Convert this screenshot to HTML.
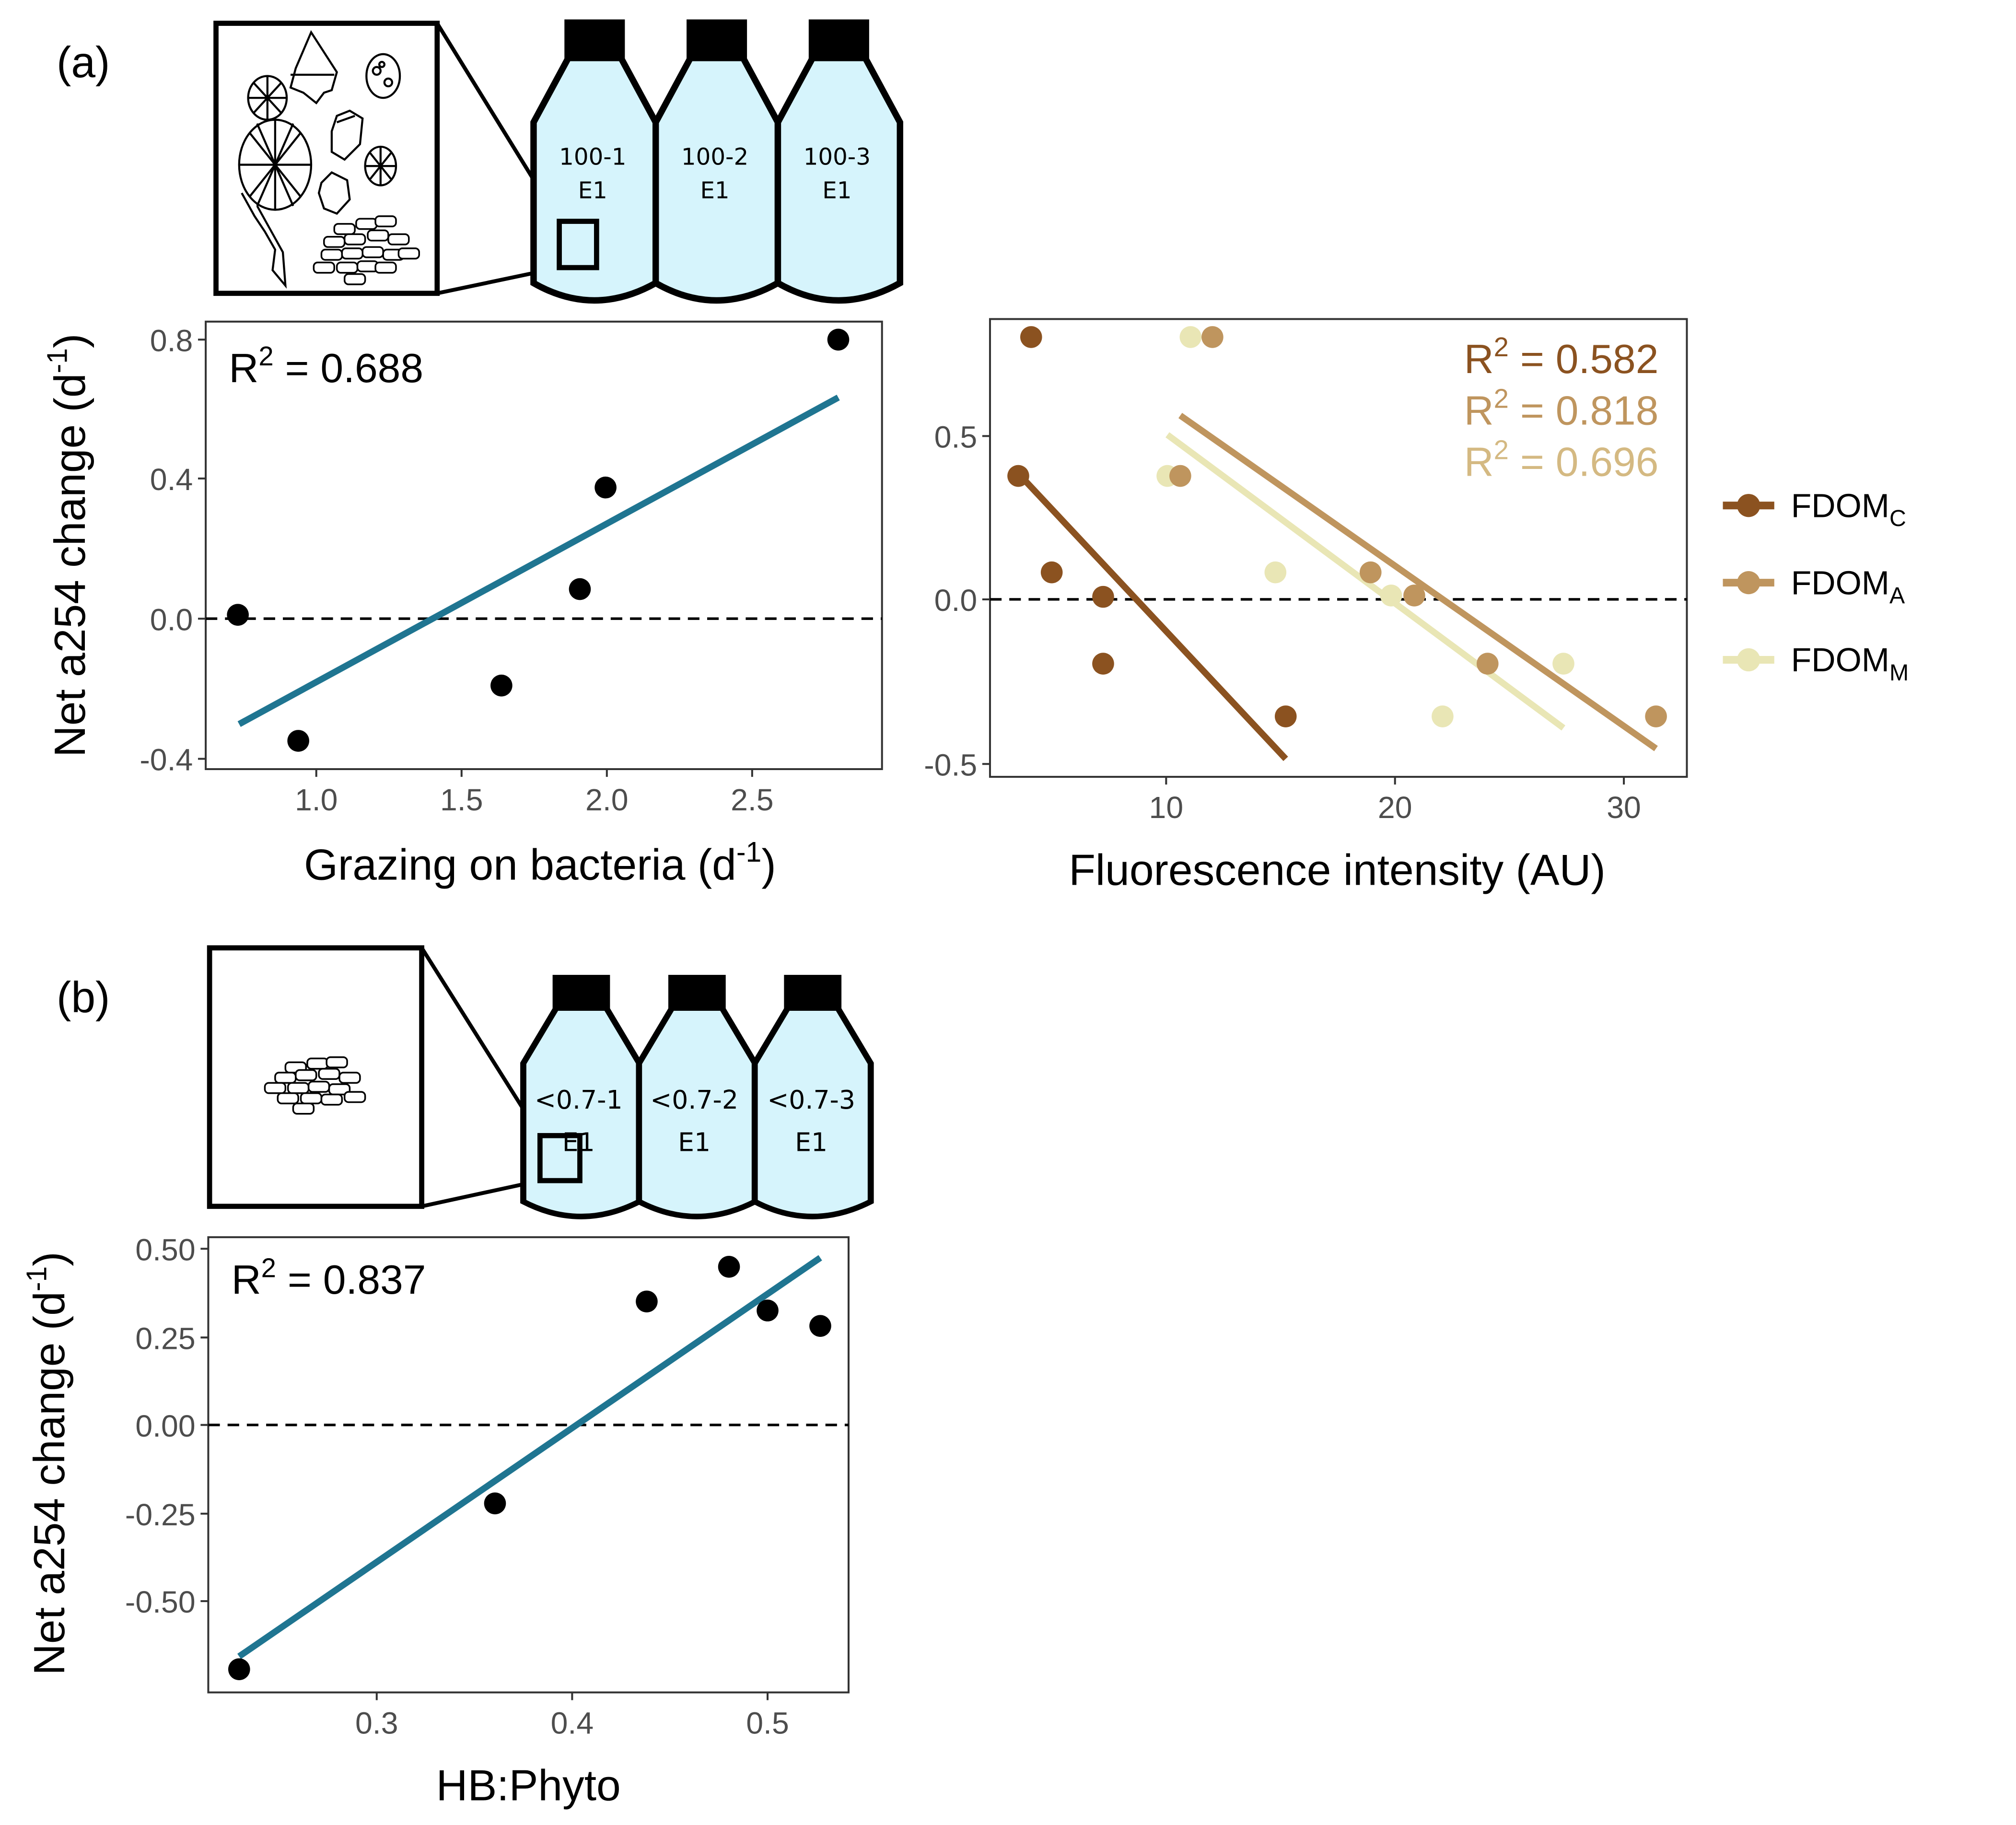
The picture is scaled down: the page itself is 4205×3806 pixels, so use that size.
<!DOCTYPE html>
<html><head><meta charset="utf-8"><style>html,body{margin:0;padding:0;background:#fff}svg{display:block}</style></head><body>
<svg xmlns="http://www.w3.org/2000/svg" width="4205" height="3806" viewBox="0 0 1568 1419" font-family="Liberation Sans, Arial, sans-serif">
<defs>
<g id="bottle">
<path d="M27,30 L0,80 L0,205 Q47,232 95,205 L95,80 L68,30 Z" fill="#d6f4fc" stroke="#000" stroke-width="5" stroke-linejoin="miter"/>
<rect x="24" y="0" width="47" height="31" fill="#000"/>
</g>
<g id="cell"><rect x="-8" y="-4" width="16" height="8" rx="3" fill="#fff" stroke="#000" stroke-width="1.3"/></g>
</defs>

<text x="44" y="60" font-size="34">(a)</text>
<text x="44" y="787" font-size="34">(b)</text>

<!-- ===== panel a schematic ===== -->
<rect x="168" y="18" width="172" height="210" fill="#fff" stroke="#000" stroke-width="4"/>
<line x1="340" y1="18" x2="435" y2="172" stroke="#000" stroke-width="3"/>
<line x1="340" y1="228" x2="435" y2="208" stroke="#000" stroke-width="3"/>
<use href="#bottle" transform="translate(415,15)"/>
<use href="#bottle" transform="translate(510,15)"/>
<use href="#bottle" transform="translate(605,15)"/>
<rect x="435" y="172" width="29" height="36" fill="none" stroke="#000" stroke-width="4"/>
<g font-family="DejaVu Sans, sans-serif" font-size="18" text-anchor="middle">
<text x="461" y="128">100-1</text><text x="461" y="154">E1</text>
<text x="556" y="128">100-2</text><text x="556" y="154">E1</text>
<text x="651" y="128">100-3</text><text x="651" y="154">E1</text>
</g>
<g fill="none" stroke="#000" stroke-width="1.6">
<ellipse cx="208" cy="76" rx="15" ry="17"/>
<path d="M208,59V93M193,76H223M197,64L219,88M219,64L197,88"/>
<ellipse cx="214" cy="128" rx="28" ry="35"/>
<path d="M214,93V163M186,128H242M194,103L234,153M234,103L194,153M200,96L228,160M228,96L200,160"/>
<ellipse cx="296" cy="129" rx="12" ry="15"/>
<path d="M296,114V144M284,129H308M288,119L304,139M304,119L288,139"/>
<path d="M242,25 L230,53 L226,68 L236,72 L246,80 L252,72 L258,70 L262,56 Z M226,58 H260"/>
<ellipse cx="298" cy="59" rx="13" ry="17"/>
<circle cx="293" cy="55" r="3"/><circle cx="302" cy="64" r="3"/><circle cx="297" cy="50" r="2"/>
<path d="M258,102 L262,90 L272,86 L282,92 L280,112 L268,124 L258,118 Z M262,95 L276,90"/>
<path d="M250,142 L258,134 L270,140 L272,155 L262,166 L252,162 L248,150 Z"/>
<path d="M188,150 L198,168 L206,180 L214,194 L212,210 L222,222 L220,196 L210,178 L200,160"/>
</g>
<g>
<use href="#cell" transform="translate(268,178)"/><use href="#cell" transform="translate(285,174)"/><use href="#cell" transform="translate(300,172)"/>
<use href="#cell" transform="translate(260,188)"/><use href="#cell" transform="translate(276,186)"/><use href="#cell" transform="translate(294,183)"/><use href="#cell" transform="translate(310,186)"/>
<use href="#cell" transform="translate(258,198)"/><use href="#cell" transform="translate(274,197)"/><use href="#cell" transform="translate(290,196)"/><use href="#cell" transform="translate(306,198)"/>
<use href="#cell" transform="translate(252,208)"/><use href="#cell" transform="translate(270,208)"/><use href="#cell" transform="translate(286,207)"/><use href="#cell" transform="translate(300,208)"/>
<use href="#cell" transform="translate(318,197)"/><use href="#cell" transform="translate(276,217)"/>
</g>

<!-- ===== panel a left plot ===== -->
<rect x="160" y="250" width="526" height="348" fill="none" stroke="#333" stroke-width="1.5"/>
<line x1="160" y1="481" x2="686" y2="481" stroke="#000" stroke-width="2" stroke-dasharray="9,6"/>
<line x1="186" y1="563" x2="652" y2="309" stroke="#1f7591" stroke-width="5"/>
<g fill="#000">
<circle cx="185" cy="478" r="8.5"/><circle cx="232" cy="576" r="8.5"/><circle cx="390" cy="533" r="8.5"/>
<circle cx="451" cy="458" r="8.5"/><circle cx="471" cy="379" r="8.5"/><circle cx="652" cy="264" r="8.5"/>
</g>
<g stroke="#333" stroke-width="1.5">
<path d="M154,264H160M154,372H160M154,481H160M154,590H160"/>
<path d="M246,598V604M359,598V604M472,598V604M585,598V604"/>
</g>
<g font-size="24" fill="#4d4d4d" text-anchor="end">
<text x="150" y="273">0.8</text><text x="150" y="381">0.4</text><text x="150" y="490">0.0</text><text x="150" y="599">-0.4</text>
</g>
<g font-size="24" fill="#4d4d4d" text-anchor="middle">
<text x="246" y="630">1.0</text><text x="359" y="630">1.5</text><text x="472" y="630">2.0</text><text x="585" y="630">2.5</text>
</g>
<text x="178" y="297" font-size="32">R<tspan dy="-13" font-size="21">2</tspan><tspan dy="13"> = 0.688</tspan></text>
<text x="420" y="684" font-size="34" text-anchor="middle">Grazing on bacteria (d<tspan dy="-14" font-size="22">-1</tspan><tspan dy="14">)</tspan></text>
<text transform="translate(66,424) rotate(-90)" font-size="34" text-anchor="middle">Net a254 change (d<tspan dy="-14" font-size="22">-1</tspan><tspan dy="14">)</tspan></text>

<!-- ===== panel a right plot ===== -->
<rect x="770" y="248" width="542" height="356" fill="none" stroke="#333" stroke-width="1.5"/>
<line x1="770" y1="466" x2="1312" y2="466" stroke="#000" stroke-width="2" stroke-dasharray="9,6"/>
<line x1="908" y1="338" x2="1216" y2="566" stroke="#e9e6b5" stroke-width="5"/>
<line x1="918" y1="323" x2="1288" y2="582" stroke="#bf955e" stroke-width="5"/>
<line x1="792" y1="368" x2="1000" y2="590" stroke="#8b5220" stroke-width="5"/>
<g fill="#e9e6b5">
<circle cx="926" cy="262" r="8.5"/><circle cx="908" cy="370" r="8.5"/><circle cx="992" cy="445" r="8.5"/><circle cx="1082" cy="463" r="8.5"/><circle cx="1216" cy="516" r="8.5"/><circle cx="1122" cy="557" r="8.5"/>
</g>
<g fill="#bf955e">
<circle cx="943" cy="262" r="8.5"/><circle cx="918" cy="370" r="8.5"/><circle cx="1066" cy="445" r="8.5"/><circle cx="1100" cy="463" r="8.5"/><circle cx="1157" cy="516" r="8.5"/><circle cx="1288" cy="557" r="8.5"/>
</g>
<g fill="#8b5220">
<circle cx="802" cy="262" r="8.5"/><circle cx="792" cy="370" r="8.5"/><circle cx="818" cy="445" r="8.5"/><circle cx="858" cy="464" r="8.5"/><circle cx="858" cy="516" r="8.5"/><circle cx="1000" cy="557" r="8.5"/>
</g>
<g stroke="#333" stroke-width="1.5">
<path d="M764,339H770M764,466H770M764,594H770"/>
<path d="M907,604V610M1085,604V610M1263,604V610"/>
</g>
<g font-size="24" fill="#4d4d4d" text-anchor="end">
<text x="760" y="348">0.5</text><text x="760" y="475">0.0</text><text x="760" y="603">-0.5</text>
</g>
<g font-size="24" fill="#4d4d4d" text-anchor="middle">
<text x="907" y="636">10</text><text x="1085" y="636">20</text><text x="1263" y="636">30</text>
</g>
<g font-size="32" text-anchor="end">
<text x="1290" y="290" fill="#8b5220">R<tspan dy="-13" font-size="21">2</tspan><tspan dy="13"> = 0.582</tspan></text>
<text x="1290" y="330" fill="#bf955e">R<tspan dy="-13" font-size="21">2</tspan><tspan dy="13"> = 0.818</tspan></text>
<text x="1290" y="370" fill="#d4b982">R<tspan dy="-13" font-size="21">2</tspan><tspan dy="13"> = 0.696</tspan></text>
</g>
<text x="1040" y="688" font-size="34" text-anchor="middle">Fluorescence intensity (AU)</text>

<g stroke-width="6">
<line x1="1340" y1="393" x2="1380" y2="393" stroke="#8b5220"/><circle cx="1360" cy="393" r="9" fill="#8b5220" stroke="none"/>
<line x1="1340" y1="453" x2="1380" y2="453" stroke="#bf955e"/><circle cx="1360" cy="453" r="9" fill="#bf955e" stroke="none"/>
<line x1="1340" y1="513" x2="1380" y2="513" stroke="#e9e6b5"/><circle cx="1360" cy="513" r="9" fill="#e9e6b5" stroke="none"/>
</g>
<g font-size="26">
<text x="1393" y="402">FDOM<tspan font-size="18" dy="7">C</tspan></text>
<text x="1393" y="462">FDOM<tspan font-size="18" dy="7">A</tspan></text>
<text x="1393" y="522">FDOM<tspan font-size="18" dy="7">M</tspan></text>
</g>

<!-- ===== panel b schematic ===== -->
<rect x="163" y="737" width="165" height="201" fill="#fff" stroke="#000" stroke-width="4"/>
<line x1="328" y1="737" x2="420" y2="883" stroke="#000" stroke-width="3"/>
<line x1="328" y1="938" x2="420" y2="918" stroke="#000" stroke-width="3"/>
<use href="#bottle" transform="translate(407,758) scale(0.95,0.86)"/>
<use href="#bottle" transform="translate(497,758) scale(0.95,0.86)"/>
<use href="#bottle" transform="translate(587,758) scale(0.95,0.86)"/>
<rect x="420" y="883" width="31" height="35" fill="none" stroke="#000" stroke-width="4"/>
<g font-family="DejaVu Sans, sans-serif" font-size="20" text-anchor="middle">
<text x="450" y="862">&lt;0.7-1</text><text x="450" y="895">E1</text>
<text x="540" y="862">&lt;0.7-2</text><text x="540" y="895">E1</text>
<text x="631" y="862">&lt;0.7-3</text><text x="631" y="895">E1</text>
</g>
<g transform="translate(-38,670)">
<use href="#cell" transform="translate(268,160)"/><use href="#cell" transform="translate(285,157)"/><use href="#cell" transform="translate(300,156)"/>
<use href="#cell" transform="translate(260,168)"/><use href="#cell" transform="translate(276,166)"/><use href="#cell" transform="translate(294,165)"/><use href="#cell" transform="translate(310,168)"/>
<use href="#cell" transform="translate(252,176)"/><use href="#cell" transform="translate(270,176)"/><use href="#cell" transform="translate(286,175)"/><use href="#cell" transform="translate(302,177)"/>
<use href="#cell" transform="translate(262,184)"/><use href="#cell" transform="translate(280,184)"/><use href="#cell" transform="translate(296,185)"/><use href="#cell" transform="translate(314,183)"/>
<use href="#cell" transform="translate(274,192)"/>
</g>

<!-- ===== panel b plot ===== -->
<rect x="162" y="962" width="498" height="354" fill="none" stroke="#333" stroke-width="1.5"/>
<line x1="162" y1="1108" x2="660" y2="1108" stroke="#000" stroke-width="2" stroke-dasharray="9,6"/>
<line x1="186" y1="1288" x2="638" y2="978" stroke="#1f7591" stroke-width="5"/>
<g fill="#000">
<circle cx="186" cy="1298" r="8.5"/><circle cx="385" cy="1169" r="8.5"/><circle cx="503" cy="1012" r="8.5"/>
<circle cx="567" cy="985" r="8.5"/><circle cx="597" cy="1019" r="8.5"/><circle cx="638" cy="1031" r="8.5"/>
</g>
<g stroke="#333" stroke-width="1.5">
<path d="M156,971H162M156,1040H162M156,1108H162M156,1177H162M156,1245H162"/>
<path d="M293,1316V1322M445,1316V1322M597,1316V1322"/>
</g>
<g font-size="24" fill="#4d4d4d" text-anchor="end">
<text x="152" y="980">0.50</text><text x="152" y="1049">0.25</text><text x="152" y="1117">0.00</text><text x="152" y="1186">-0.25</text><text x="152" y="1254">-0.50</text>
</g>
<g font-size="24" fill="#4d4d4d" text-anchor="middle">
<text x="293" y="1348">0.3</text><text x="445" y="1348">0.4</text><text x="597" y="1348">0.5</text>
</g>
<text x="180" y="1006" font-size="32">R<tspan dy="-13" font-size="21">2</tspan><tspan dy="13"> = 0.837</tspan></text>
<text x="411" y="1400" font-size="34" text-anchor="middle">HB:Phyto</text>
<text transform="translate(50,1138) rotate(-90)" font-size="34" text-anchor="middle">Net a254 change (d<tspan dy="-14" font-size="22">-1</tspan><tspan dy="14">)</tspan></text>
</svg>
</body></html>
